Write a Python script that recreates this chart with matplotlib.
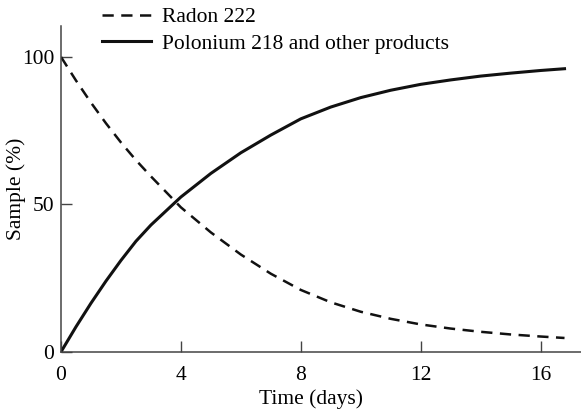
import matplotlib
matplotlib.use("Agg")
import matplotlib.pyplot as plt

# values
days = [0, 0.5, 1, 1.5, 2, 2.5, 3, 4, 5, 6, 7, 8, 9, 10, 11, 12, 13, 14, 15, 16, 16.8]
radon = [100, 92, 84.5, 77.5, 71, 65, 59.5, 49, 40.5, 33, 26.5, 21, 16.8,
         13.6, 11.2, 9.3, 7.9, 6.8, 5.9, 5.2, 4.7]
polonium = [0, 8.5, 16.5, 24, 31, 37.5, 43, 52.5, 60.5, 67.5, 73.5, 79, 83,
            86.2, 88.7, 90.7, 92.2, 93.5, 94.5, 95.4, 96]
x_ticks = [0, 4, 8, 12, 16]
y_ticks = [0, 50, 100]

plt.rcParams["font.family"] = ["Liberation Serif", "DejaVu Serif"]

fig = plt.figure(figsize=(5.81, 4.12), dpi=100)
ax = fig.add_axes([0.105, 0.146, 0.895, 0.791])

l1, = ax.plot(days, radon, color="#111111", lw=1.8, ls=(0, (4.5, 3)),
              label="Radon 222")
l2, = ax.plot(days, polonium, color="#111111", lw=2.2,
              solid_joinstyle="round", label="Polonium 218 and other products")

ax.set_xlim(0, 17.35)
ax.set_ylim(0, 110.5)
ax.set_xticks(x_ticks)
ax.set_yticks(y_ticks)
for s in ["top", "right"]:
    ax.spines[s].set_visible(False)
for s in ["left", "bottom"]:
    ax.spines[s].set_color("#444444")
    ax.spines[s].set_linewidth(1.1)
ax.tick_params(axis="x", direction="in", length=8, width=1, color="#444444",
               pad=10, labelsize=15.5)
ax.tick_params(axis="y", direction="in", length=8, width=1, color="#444444",
               pad=5, labelsize=15.5)

ax.set_xlabel("Time (days)", fontsize=15.5)
ax.set_ylabel("Sample (%)", fontsize=15.5)
ax.xaxis.set_label_coords(0.48, -0.115)
ax.yaxis.set_label_coords(-0.067, 0.5)

fig.legend(handles=[l1, l2], loc="upper left", bbox_to_anchor=(0.143, 1.03),
           frameon=False, handlelength=2.25, handletextpad=0.5,
           labelspacing=0.3, fontsize=15.5)

fig.savefig("out.png", dpi=100)
plt.close(fig)
